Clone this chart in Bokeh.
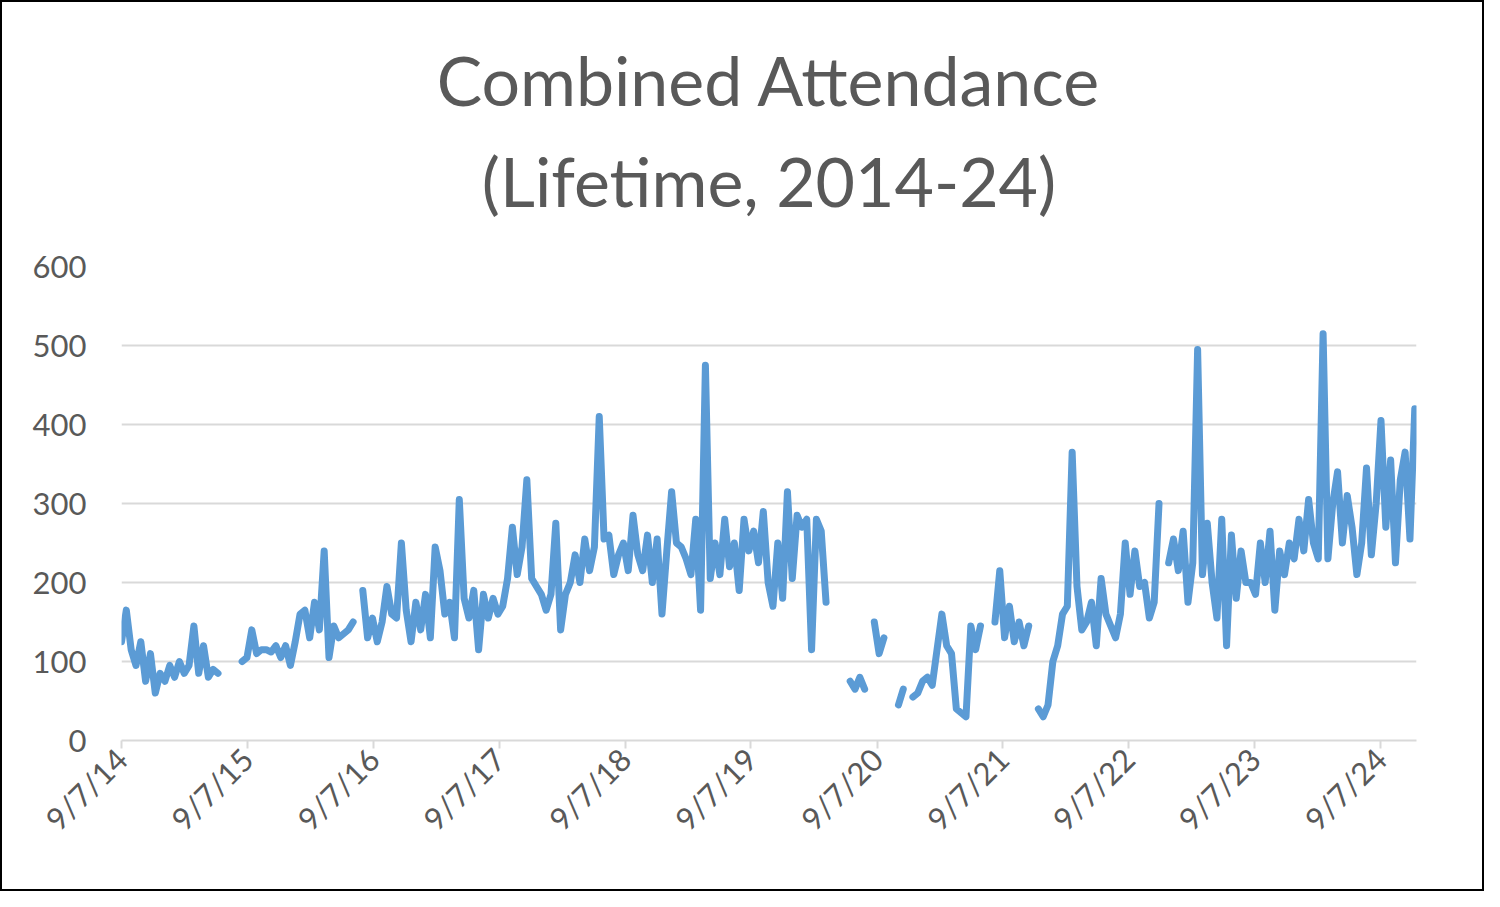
import datetime as dt
import numpy as np
from bokeh.plotting import figure
from bokeh.models import ColumnDataSource, FixedTicker, Title
from bokeh.embed import file_html
from bokeh.resources import INLINE

N = None
y2014 = [125,165,115,95,125,75,110,60,85,75,95,80,100,85,95,145,85,120,80,90,85,N,N,N,N,100]
y2015 = [105,140,110,115,115,112,120,105,120,95,125,160,165,130,175,140,240,105,145,130,135,140,150,N,190,130]
y2016 = [155,125,150,195,160,155,250,165,125,175,140,185,130,245,215,160,175,130,305,180,155,190,115,185,155,180]
y2017 = [160,170,205,270,210,245,330,205,195,185,165,185,275,140,185,200,235,200,255,215,245,410,255,260,210,235]
y2018 = [250,215,285,235,215,260,200,255,160,240,315,250,245,230,210,280,165,475,205,250,210,280,220,250,190,280]
y2019 = [240,265,225,290,200,170,250,180,315,205,285,270,280,115,280,265,175,N,N,N,N,75,65,80,65,N]
y2020 = [150,110,130,N,N,45,65,N,55,60,75,80,70,115,160,120,110,40,35,30,145,115,145,N,N,150]
y2021 = [215,130,170,125,150,120,145,N,40,30,45,100,120,160,170,365,195,140,150,175,120,205,160,145,130,160]
y2022 = [250,185,240,195,200,155,175,300,N,225,255,215,265,175,225,495,210,275,200,155,280,120,260,180,240,200]
y2023 = [200,185,250,200,265,165,240,210,250,230,280,240,305,250,230,515,230,300,340,250,310,270,210,250,345,235]
y2024 = [300,405,270,355,225,330,365,255,420]

values = y2014+y2015+y2016+y2017+y2018+y2019+y2020+y2021+y2022+y2023+y2024
start = dt.datetime(2014, 9, 7)
dates = [start + dt.timedelta(days=14*i) for i in range(len(values))]
vals = [np.nan if v is None else v for v in values]

tick_dates = [dt.datetime(y, 9, 7) for y in range(2014, 2025)]
tick_labels = [f"9/7/{y%100}" for y in range(2014, 2025)]

p = figure(width=1484, height=891, x_axis_type="datetime", output_backend="svg",
           toolbar_location=None, y_range=(0, 600),
           x_range=(start, dt.datetime(2024, 12, 20)),
           min_border_left=119, min_border_right=70, min_border_bottom=153, min_border_top=264)
p.styles = {"border": "2px solid black", "box-sizing": "border-box"}
p.outline_line_color = None
src = ColumnDataSource(dict(x=dates, y=vals))
p.line("x", "y", source=src, line_color="#5b9bd5", line_width=7, line_join="round", line_cap="round")

ticks_ms = [(d - dt.datetime(1970, 1, 1)).total_seconds()*1000 for d in tick_dates]
p.xaxis.ticker = FixedTicker(ticks=ticks_ms)
p.xaxis.major_label_overrides = {t: l for t, l in zip(ticks_ms, tick_labels)}
p.xaxis.major_label_orientation = 0.785
p.xaxis.minor_tick_line_color = None
p.xaxis.axis_line_color = "#d9d9d9"
p.xaxis.axis_line_width = 2
p.xaxis.major_tick_line_color = "#d9d9d9"
p.xaxis.major_tick_line_width = 2
p.xaxis.major_tick_out = 8
p.xaxis.major_tick_in = 0
p.yaxis.ticker = FixedTicker(ticks=[0,100,200,300,400,500,600])
p.yaxis.axis_line_color = None
p.yaxis.major_tick_line_color = None
p.yaxis.minor_tick_line_color = None
for ax in (p.xaxis, p.yaxis):
    ax.major_label_text_font = "Lato"
    ax.major_label_text_font_size = "31px"
    ax.major_label_text_color = "#595959"
p.yaxis.major_label_standoff = 29
p.xgrid.grid_line_color = None
p.ygrid.grid_line_color = "#d9d9d9"
p.ygrid.grid_line_width = 2

p.add_layout(Title(text="(Lifetime, 2014-24)", align="center", text_font="Lato",
                   text_font_size="68px", text_font_style="normal", text_color="#595959",
                   standoff=92), "above")
p.add_layout(Title(text="Combined Attendance", align="center", text_font="Lato",
                   text_font_size="68px", text_font_style="normal", text_color="#595959",
                   standoff=-56), "above")

open("out.html", "w").write(file_html(p, INLINE))
